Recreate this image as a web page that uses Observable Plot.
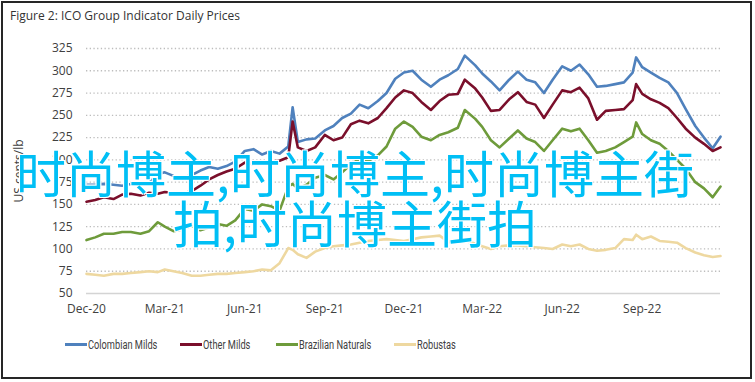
<!DOCTYPE html>
<html>
<head>
<meta charset="utf-8">
<script src="https://cdn.jsdelivr.net/npm/d3@7"></script>
<script src="https://cdn.jsdelivr.net/npm/@observablehq/plot@0.6"></script>
<style>
  html, body { margin: 0; padding: 0; background: #fff; }
  #fig { position: relative; width: 755px; height: 382px; overflow: hidden; background: #fff; }
  #frame { position: absolute; left: 1px; top: 1px; width: 751px; height: 378px; box-sizing: border-box; border: 2px solid #262626; pointer-events: none; }
  #title { position: absolute; left: 10px; top: 7px; font-family: "Open Sans", sans-serif; font-size: 12px; color: #333; white-space: nowrap; }
  #chart { position: absolute; left: 0; top: 0; }
  #legend { position: absolute; left: 0; top: 335px; width: 755px; height: 18px; font-family: "Roboto", sans-serif; font-size: 12.5px; color: #404040; white-space: nowrap; }
  .item { position: absolute; top: 0; display: flex; align-items: center; height: 18px; }
  .sw { width: 22px; height: 3px; margin-right: 1px; }
  .lt { display: inline-block; transform: scaleX(0.74); transform-origin: left center; }
  #overlay { position: absolute; left: 0; top: 146px; width: 710px; text-align: center; font-family: "Noto Sans CJK SC", sans-serif; font-size: 50px; line-height: 50px; color: #00BFF5; text-shadow: 0 0 2px #fff, 1px 1px 0 #fff, -1px -1px 0 #fff, 1px -1px 0 #fff, -1px 1px 0 #fff; white-space: nowrap; }
</style>
</head>
<body>
<div id="fig">
  <div id="chart"></div>
  <div id="title">Figure 2: ICO Group Indicator Daily Prices</div>
  <div id="legend"></div>
  <div id="overlay">时尚博主,时尚博主,时尚博主街<br>拍,时尚博主街拍</div>
  <div id="frame"></div>
</div>
<script>
const dates = ["2020-12-01","2020-12-11","2020-12-21","2021-01-01","2021-01-11","2021-01-21","2021-02-01","2021-02-11","2021-02-21","2021-03-01","2021-03-11","2021-03-21","2021-04-01","2021-04-11","2021-04-21","2021-05-01","2021-05-11","2021-05-21","2021-06-01","2021-06-11","2021-06-21","2021-07-01","2021-07-11","2021-07-21","2021-07-26","2021-08-01","2021-08-11","2021-08-21","2021-09-01","2021-09-11","2021-09-21","2021-10-01","2021-10-11","2021-10-21","2021-11-01","2021-11-11","2021-11-21","2021-12-01","2021-12-11","2021-12-21","2022-01-01","2022-01-11","2022-01-21","2022-02-01","2022-02-09","2022-02-21","2022-03-01","2022-03-11","2022-03-21","2022-04-01","2022-04-11","2022-04-21","2022-05-01","2022-05-11","2022-05-21","2022-06-01","2022-06-11","2022-06-21","2022-07-01","2022-07-11","2022-07-21","2022-08-01","2022-08-11","2022-08-21","2022-08-25","2022-09-01","2022-09-11","2022-09-21","2022-10-01","2022-10-11","2022-10-21","2022-11-01","2022-11-11","2022-11-21","2022-11-30"];

const colombianMilds = [172,172,173,172,171,173,172,174,184,186,182,180,183,188,192,190,193,198,210,212,206,210,207,215,259,220,223,224,233,238,247,252,262,258,266,275,291,298,300,290,282,290,295,302,317,306,297,288,278,290,299,290,287,275,290,305,300,307,296,282,283,285,287,298,315,304,298,292,287,275,257,238,225,213,226];

const otherMilds = [153,155,158,156,161,162,160,163,162,164,163,162,165,171,178,183,187,190,197,195,196,198,199,203,243,214,210,214,228,222,225,240,244,241,247,258,270,278,275,265,256,266,273,274,290,280,270,255,256,268,276,265,262,247,262,278,276,281,269,245,255,256,257,267,285,274,268,264,258,247,235,225,218,210,214];

const brazilianNaturals = [110,113,117,117,119,119,117,120,130,125,120,122,126,121,124,128,126,132,145,143,150,148,143,170,173,168,172,180,183,178,186,195,201,199,205,215,235,243,237,226,222,228,231,236,256,246,237,222,214,224,233,224,220,210,222,235,232,235,222,208,210,214,220,226,242,229,222,218,210,200,190,175,168,158,170];

const robustas = [72,71,70,72,72,73,74,75,74,77,75,73,70,70,71,72,72,73,74,75,77,76,84,101,99,94,90,97,101,103,104,105,107,109,110,111,110,109,111,113,114,115,108,108,109,106,103,100,103,104,104,103,102,101,100,105,103,105,100,98,99,101,111,110,116,111,114,109,108,107,101,96,93,91,92];

const seriesNames = ["Colombian Milds", "Other Milds", "Brazilian Naturals", "Robustas"];
const seriesColors = ["#4F81BD", "#7A0F2B", "#6E9B3B", "#EED8A0"];
const seriesValues = [colombianMilds, otherMilds, brazilianNaturals, robustas];
const legendLefts = [65, 180, 276, 394];

const yTicks = [50,75,100,125,150,175,200,225,250,275,300,325];
const xTicks = ["2020-12-01","2021-03-01","2021-06-01","2021-09-01","2021-12-01","2022-03-01","2022-06-01","2022-09-01"];

const rows = seriesNames.flatMap((name, s) =>
  dates.map((d, i) => ({date: new Date(d), value: seriesValues[s][i], series: name}))
);

const chart = Plot.plot({
  width: 755,
  height: 330,
  marginLeft: 86,
  marginRight: 35,
  marginTop: 48,
  marginBottom: 37,
  style: {fontFamily: "Open Sans, sans-serif", fontSize: "12px", color: "#404040", background: "transparent", overflow: "visible"},
  x: {type: "utc", domain: [new Date("2020-12-01"), new Date("2022-11-30")]},
  y: {domain: [50, 325]},
  color: {domain: seriesNames, range: seriesColors},
  marks: [
    Plot.ruleY(yTicks.filter(v => v > 50), {stroke: "#bdbdbd", strokeWidth: 1.3, strokeDasharray: "1.3,2.4"}),
    Plot.ruleY([50], {stroke: "#d4d4d4", strokeWidth: 1.5}),
    Plot.axisY({ticks: yTicks, tickSize: 0, tickPadding: 14, label: "US cents/lb", labelAnchor: "center", labelOffset: 72, labelArrow: "none", fill: "#404040"}),
    Plot.axisX({ticks: xTicks.map(d => new Date(d)), tickFormat: d3.utcFormat("%b-%y"), tickSize: 0, tickPadding: 11, label: null, fill: "#404040"}),
    Plot.line(rows, {x: "date", y: "value", z: "series", stroke: "series", strokeWidth: 2.6, strokeLinejoin: "round"})
  ]
});
document.getElementById("chart").appendChild(chart);

const legend = document.getElementById("legend");
seriesNames.forEach((name, i) => {
  const item = document.createElement("div");
  item.className = "item";
  item.style.left = legendLefts[i] + "px";
  const sw = document.createElement("span");
  sw.className = "sw";
  sw.style.background = seriesColors[i];
  const t = document.createElement("span");
  t.className = "lt";
  t.textContent = name;
  item.appendChild(sw);
  item.appendChild(t);
  legend.appendChild(item);
});
</script>
</body>
</html>
